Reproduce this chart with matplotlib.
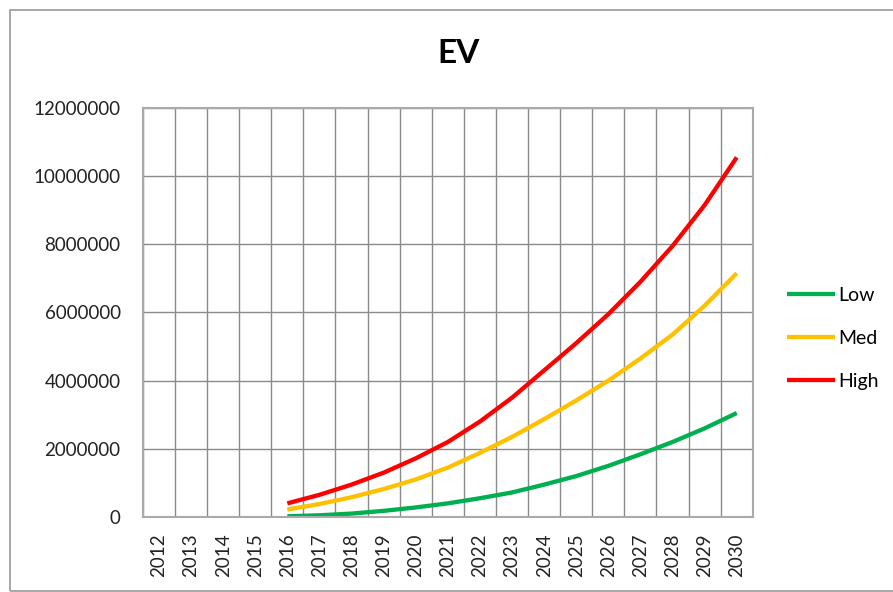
import matplotlib
matplotlib.use("Agg")
import matplotlib.pyplot as plt
from matplotlib.patches import Rectangle

plt.rcParams['font.family'] = ['Lato', 'DejaVu Sans']

years = list(range(2012, 2031))
proj_years = list(range(2016, 2031))
low = [20000, 50000, 100000, 180000, 280000, 400000, 550000, 720000,
       950000, 1200000, 1500000, 1840000, 2200000, 2600000, 3050000]
med = [220000, 380000, 580000, 820000, 1100000, 1450000, 1880000, 2350000,
       2870000, 3420000, 4000000, 4650000, 5350000, 6200000, 7150000]
high = [400000, 650000, 950000, 1300000, 1720000, 2200000, 2800000, 3500000,
        4300000, 5100000, 5950000, 6900000, 7950000, 9150000, 10550000]

fig = plt.figure(figsize=(8.93, 5.92), dpi=100)
ax = fig.add_axes([0.160, 0.1267, 0.683, 0.691])

x = [years.index(y) for y in proj_years]
ax.plot(x, low, color='#00B050', lw=3.1, label='Low', solid_capstyle='butt')
ax.plot(x, med, color='#FFC000', lw=3.1, label='Med', solid_capstyle='butt')
ax.plot(x, high, color='#FF0000', lw=3.1, label='High', solid_capstyle='butt')

ax.set_xlim(-0.5, len(years) - 0.5)
ax.set_ylim(0, 12000000)
ax.set_yticks(range(0, 12000001, 2000000))
ax.set_yticklabels([str(v) for v in range(0, 12000001, 2000000)])
ax.set_xticks(range(len(years)))
ax.set_xticklabels([str(y) for y in years], rotation=90)
ax.set_xticks([i - 0.5 for i in range(len(years) + 1)], minor=True)
ax.tick_params(axis='both', which='both', length=0, labelsize=13.5, colors='#222222')
ax.tick_params(axis='y', pad=16)
ax.tick_params(axis='x', pad=12)
ax.grid(True, axis='y', which='major', color='#8a8a8a', lw=1)
ax.grid(True, axis='x', which='minor', color='#8a8a8a', lw=1)
ax.set_axisbelow(True)
for s in ax.spines.values():
    s.set_color('#aaaaaa')
    s.set_linewidth(1.5)

fig.text(0.513, 0.91, 'EV', ha='center', va='center', fontsize=24, fontweight='bold')

fig.legend(loc='upper left', bbox_to_anchor=(0.881, 0.516), frameon=False,
           fontsize=14, handlelength=2.5, handletextpad=0.15, labelspacing=1.35,
           borderaxespad=0, borderpad=0)

fig.patches.append(Rectangle((0.011, 0.002), 1.0, 0.981, transform=fig.transFigure,
                             fill=False, edgecolor='#999999', lw=1.2))

fig.savefig('out.png', dpi=100)
